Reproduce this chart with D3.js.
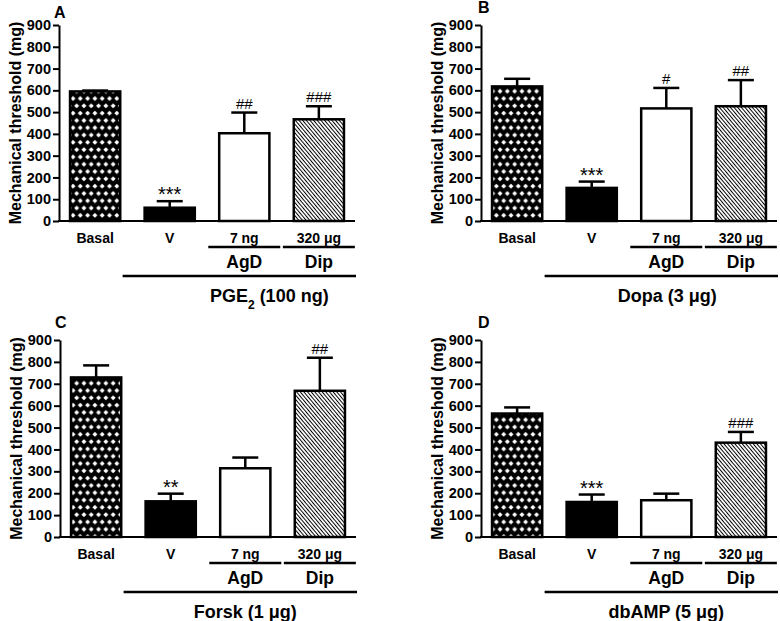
<!DOCTYPE html>
<html lang="en">
<head>
  <meta charset="UTF-8">
  <title>Mechanical threshold panels A-D</title>
  <script src="https://d3js.org/d3.v7.min.js"></script>
  <style>
    body {
      margin: 0;
      background: #fff;
    }
    svg text {
      font-family: "Liberation Sans", Arial, sans-serif;
      fill: #000;
    }
    .axis path, .axis line {
      stroke: #000;
      stroke-width: 2;
    }
    .axis text {
      font-size: 14.5px;
      font-weight: bold;
    }
  </style>
</head>
<body>
  <div id="chart"></div>

  <script>
    // data
    const groups = ["Basal", "V", "AgD", "Dip"];
    const doseLabels = ["Basal", "V", "7 ng", "320 μg"];
    const drugLabels = ["AgD", "Dip"];
    const panelIds = ["A", "B", "C", "D"];
    const treatments = ["PGE2 (100 ng)", "Dopa (3 μg)", "Forsk (1 μg)", "dbAMP (5 μg)"];
    const yTicks = [0, 100, 200, 300, 400, 500, 600, 700, 800, 900];

    const meansA = [595, 61, 403, 467];
    const errA   = [4, 30, 95, 60];
    const marksA = ["", "***", "##", "###"];

    const meansB = [618, 152, 517, 527];
    const errB   = [35, 29, 94, 120];
    const marksB = ["", "***", "#", "##"];

    const meansC = [729, 163, 314, 668];
    const errC   = [55, 35, 49, 151];
    const marksC = ["", "**", "", "##"];

    const meansD = [564, 160, 168, 431];
    const errD   = [28, 34, 30, 49];
    const marksD = ["", "***", "", "###"];

    const allMeans = [meansA, meansB, meansC, meansD];
    const allErr = [errA, errB, errC, errD];
    const allMarks = [marksA, marksB, marksC, marksD];

    // panel placement
    const layout = [
      { ax: 59,  top: 25,  bot: 221, lx: 54,  ly: 18,  tshift: 25 },
      { ax: 481, top: 25,  bot: 221, lx: 478, ly: 13,  tshift: 1 },
      { ax: 60,  top: 340, bot: 537, lx: 55,  ly: 328, tshift: 0 },
      { ax: 481, top: 340, bot: 537, lx: 478, ly: 328, tshift: 0 }
    ];
    const axisLen = 296;
    const fills = ["url(#dots)", "#000", "#fff", "url(#hatch)"];

    const svg = d3.select("#chart").append("svg")
      .attr("width", 780)
      .attr("height", 621);

    const defs = svg.append("defs");

    // black with white diamonds (basal)
    const dots = defs.append("pattern")
      .attr("id", "dots")
      .attr("patternUnits", "userSpaceOnUse")
      .attr("width", 7.3)
      .attr("height", 14.6);
    dots.append("rect").attr("width", 7.3).attr("height", 14.6).attr("fill", "#000");
    const dia = (cx, cy, r) => `M${cx},${cy - r}L${cx + r},${cy}L${cx},${cy + r}L${cx - r},${cy}Z`;
    dots.append("path")
      .attr("d", dia(3.65, 3.65, 2.5) + dia(0, 10.95, 2.5) + dia(7.3, 10.95, 2.5))
      .attr("fill", "#fff");

    // thin diagonal hatch (Dip)
    const hatch = defs.append("pattern")
      .attr("id", "hatch")
      .attr("patternUnits", "userSpaceOnUse")
      .attr("width", 2.8)
      .attr("height", 10)
      .attr("patternTransform", "rotate(-40)");
    hatch.append("rect").attr("width", 2.8).attr("height", 10).attr("fill", "#fff");
    hatch.append("line")
      .attr("x1", 0.5).attr("x2", 0.5).attr("y1", 0).attr("y2", 10)
      .attr("stroke", "#000").attr("stroke-width", 1);

    layout.forEach((L, i) => {
      const g = svg.append("g");
      const means = allMeans[i], err = allErr[i], marks = allMarks[i];

      const y = d3.scaleLinear().domain([0, 900]).range([L.bot, L.top]);
      const x = d3.scaleBand().domain(groups)
        .range([L.ax, L.ax + axisLen])
        .paddingInner(0.327)
        .paddingOuter(0.148);
      const bw = x.bandwidth();
      const cx = k => x(k) + bw / 2;

      // bars
      g.selectAll("rect.bar")
        .data(groups)
        .join("rect")
        .attr("class", "bar")
        .attr("x", d => x(d))
        .attr("y", (d, j) => y(means[j]))
        .attr("width", bw)
        .attr("height", (d, j) => y(0) - y(means[j]))
        .attr("fill", (d, j) => fills[j])
        .attr("stroke", "#000")
        .attr("stroke-width", 2.5);

      // error bars (upper only)
      g.selectAll("line.err")
        .data(groups)
        .join("line")
        .attr("class", "err")
        .attr("x1", d => cx(d)).attr("x2", d => cx(d))
        .attr("y1", (d, j) => y(means[j]))
        .attr("y2", (d, j) => y(means[j] + err[j]))
        .attr("stroke", "#000").attr("stroke-width", 2.5);
      g.selectAll("line.cap")
        .data(groups)
        .join("line")
        .attr("class", "cap")
        .attr("x1", d => cx(d) - 13).attr("x2", d => cx(d) + 13)
        .attr("y1", (d, j) => y(means[j] + err[j]))
        .attr("y2", (d, j) => y(means[j] + err[j]))
        .attr("stroke", "#000").attr("stroke-width", 2.5);

      // significance marks
      g.selectAll("text.mark")
        .data(groups)
        .join("text")
        .attr("class", "mark")
        .attr("x", d => cx(d))
        .attr("y", (d, j) => y(means[j] + err[j]) + (marks[j].startsWith("*") ? 0 : -4))
        .attr("text-anchor", "middle")
        .style("font-size", (d, j) => marks[j].startsWith("*") ? "20px" : "15px")
        .text((d, j) => marks[j]);

      // axes
      g.append("g")
        .attr("class", "axis")
        .attr("transform", `translate(${L.ax},0)`)
        .call(d3.axisLeft(y).tickValues(yTicks).tickSize(6).tickSizeOuter(0).tickPadding(2));
      g.append("line")
        .attr("x1", L.ax - 1).attr("x2", L.ax + axisLen)
        .attr("y1", y(0)).attr("y2", y(0))
        .attr("stroke", "#000").attr("stroke-width", 2);

      g.append("text")
        .attr("transform", `translate(${L.ax - 38},${(L.top + L.bot) / 2}) rotate(-90)`)
        .attr("text-anchor", "middle")
        .style("font-size", "16px").style("font-weight", "bold")
        .text("Mechanical threshold (mg)");

      g.append("text")
        .attr("x", L.lx).attr("y", L.ly)
        .style("font-size", "16px").style("font-weight", "bold")
        .text(panelIds[i]);

      // category labels below the axis
      g.selectAll("text.cat")
        .data(groups)
        .join("text")
        .attr("class", "cat")
        .attr("x", d => cx(d))
        .attr("y", L.bot + 22)
        .attr("text-anchor", "middle")
        .style("font-size", "14px").style("font-weight", "bold")
        .text((d, j) => doseLabels[j]);

      const drugs = groups.slice(2);
      g.selectAll("line.dose")
        .data(drugs)
        .join("line")
        .attr("class", "dose")
        .attr("x1", d => cx(d) - 36).attr("x2", d => cx(d) + 36)
        .attr("y1", L.bot + 26).attr("y2", L.bot + 26)
        .attr("stroke", "#000").attr("stroke-width", 2.5);
      g.selectAll("text.drug")
        .data(drugs)
        .join("text")
        .attr("class", "drug")
        .attr("x", d => cx(d))
        .attr("y", L.bot + 47)
        .attr("text-anchor", "middle")
        .style("font-size", "17.5px").style("font-weight", "bold")
        .text((d, j) => drugLabels[j]);

      g.append("line")
        .attr("x1", x("V") - 22).attr("x2", L.ax + axisLen + 1)
        .attr("y1", L.bot + 55).attr("y2", L.bot + 55)
        .attr("stroke", "#000").attr("stroke-width", 2.5);

      const t = g.append("text")
        .attr("x", cx("AgD") + L.tshift)
        .attr("y", L.bot + 81)
        .attr("text-anchor", "middle")
        .style("font-size", "18px").style("font-weight", "bold");
      const m = treatments[i].match(/^(PGE)2(.*)$/);
      if (m) {
        t.append("tspan").text(m[1]);
        t.append("tspan").attr("baseline-shift", "sub").style("font-size", "12px").text("2");
        t.append("tspan").text(m[2]);
      } else {
        t.text(treatments[i]);
      }
    });
  </script>
</body>
</html>
